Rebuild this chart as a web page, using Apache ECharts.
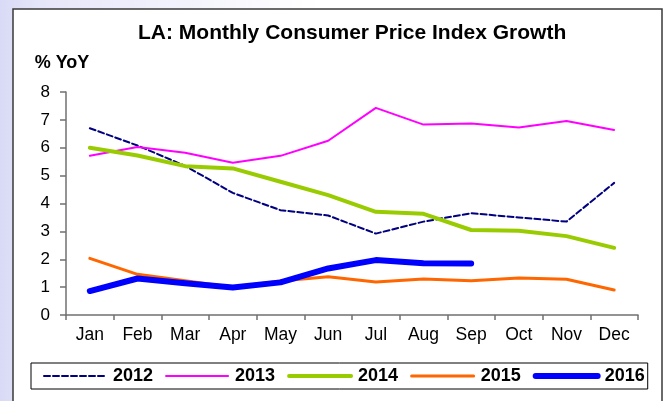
<!DOCTYPE html>
<html>
<head>
<meta charset="utf-8">
<script src="https://cdn.jsdelivr.net/npm/echarts@6/dist/echarts.min.js"></script>
<style>
  html, body { margin: 0; padding: 0; }
  body { width: 667px; height: 401px; overflow: hidden;
         background: linear-gradient(to right, #d9daf5 0px, #e6e6f9 40px, #ffffff 320px); }
  #chart { width: 667px; height: 401px; }
</style>
</head>
<body>
<div id="chart"></div>
<script>
"use strict";
/** Month labels on the x axis */
const months = ["Jan", "Feb", "Mar", "Apr", "May", "Jun", "Jul", "Aug", "Sep", "Oct", "Nov", "Dec"];
/** % YoY per year */
const cpi2012 = [6.7, 6.08, 5.35, 4.38, 3.76, 3.57, 2.92, 3.35, 3.65, 3.5, 3.35, 4.74];
const cpi2013 = [5.71, 6.03, 5.82, 5.46, 5.71, 6.25, 7.43, 6.83, 6.87, 6.73, 6.96, 6.64];
const cpi2014 = [6.0, 5.72, 5.34, 5.26, 4.78, 4.3, 3.7, 3.63, 3.05, 3.02, 2.83, 2.41];
const cpi2015 = [2.03, 1.46, 1.23, 1.0, 1.22, 1.37, 1.18, 1.29, 1.23, 1.33, 1.28, 0.9];
const cpi2016 = [0.86, 1.31, 1.14, 0.99, 1.17, 1.67, 1.97, 1.86, 1.85];
const yTicks = [0, 1, 2, 3, 4, 5, 6, 7, 8];

const font = "Arial, 'Liberation Sans', sans-serif";
let chart = echarts.init(document.getElementById("chart"));

/** Series style: [name, data, color, width, dash] */
const lines = [
    ["2012", cpi2012, "#000080", 2, [6, 3]],
    ["2013", cpi2013, "#ff00ff", 2, "solid"],
    ["2014", cpi2014, "#99cc00", 4, "solid"],
    ["2015", cpi2015, "#ff6600", 3, "solid"],
    ["2016", cpi2016, "#0000ff", 6, "solid"]
];

function MakeLine(item) {
    return {
        name: item[0],
        type: "line",
        data: item[1],
        symbol: "none",
        lineStyle: { color: item[2], width: item[3], type: item[4], cap: "round", join: "round" },
        itemStyle: { color: item[2] },
        z: 3
    };
}

chart.setOption({
    animation: false,
    graphic: [{
        type: "rect",
        z: -10,
        shape: { x: 13, y: 9, width: 649, height: 400 },
        style: { fill: "#ffffff", stroke: "#3a3a3a", lineWidth: 1.5 }
    }],
    title: {
        text: "LA: Monthly Consumer Price Index Growth",
        left: 138,
        top: 23,
        padding: 0,
        textStyle: { fontFamily: font, fontSize: 21, fontWeight: "bold", color: "#000" }
    },
    grid: { left: 66, right: 29, top: 92, bottom: 86 },
    xAxis: {
        type: "category",
        data: months,
        boundaryGap: true,
        axisLine: { lineStyle: { color: "#707070", width: 1.5 } },
        axisTick: { show: true, length: 5, lineStyle: { color: "#707070", width: 1.5 } },
        axisLabel: { fontFamily: font, fontSize: 17.5, color: "#000", margin: 11, interval: 0 },
        splitLine: { show: false }
    },
    yAxis: {
        type: "value",
        min: yTicks[0],
        max: yTicks[yTicks.length - 1],
        interval: 1,
        name: "% YoY",
        nameLocation: "end",
        nameGap: 20,
        nameTextStyle: { fontFamily: font, fontSize: 18, fontWeight: "bold", color: "#000", padding: [0, 8, 0, 0] },
        axisLine: { show: true, lineStyle: { color: "#707070", width: 1.5 } },
        axisTick: { show: true, length: 6, lineStyle: { color: "#707070", width: 1.5 } },
        axisLabel: { fontFamily: font, fontSize: 17, color: "#000", margin: 16 },
        splitLine: { show: false }
    },
    legend: {
        left: 31,
        top: 363,
        orient: "horizontal",
        padding: [4, 3, 4, 12],
        borderColor: "#000",
        borderWidth: 1,
        itemWidth: 62,
        itemHeight: 8,
        itemGap: 12,
        itemStyle: { opacity: 0 },
        textStyle: { fontFamily: font, fontSize: 18, fontWeight: "bold", color: "#000", padding: [0, 0, 0, 2] },
        data: lines.map((item) => ({ name: item[0], lineStyle: { width: item[3] } }))
    },
    series: lines.map(MakeLine)
});
</script>
</body>
</html>
